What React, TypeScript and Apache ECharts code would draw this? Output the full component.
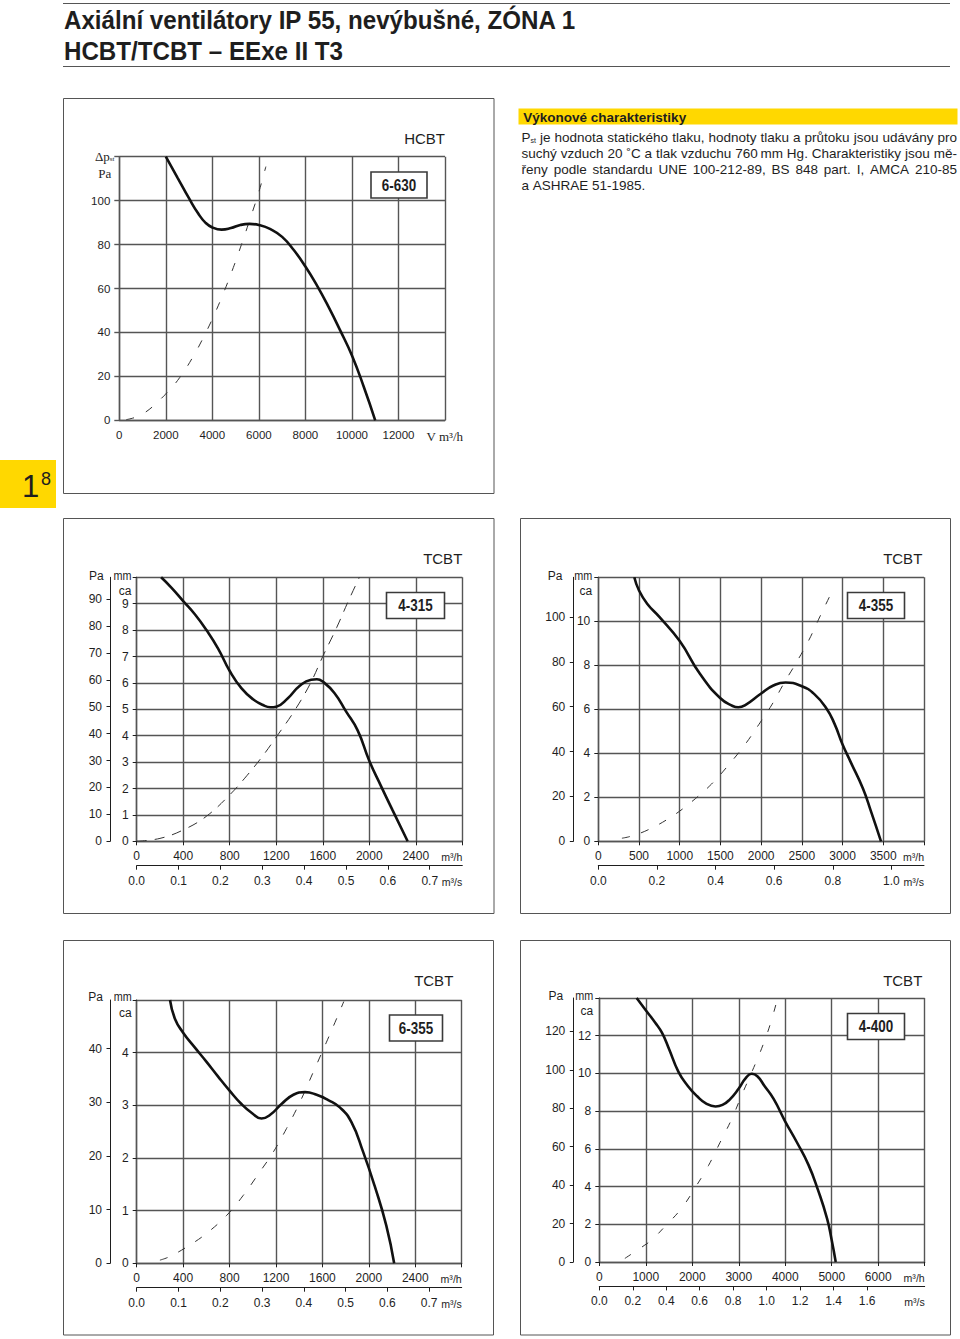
import React, { useEffect, useRef } from 'react';
import * as echarts from 'echarts';

// ---------------- DATA ----------------
// HCBT 6-630 (pressure in Pa vs flow in m3/h)
const hcbt630Flow = [2000, 2500, 3000, 3400, 3700, 4000, 4400, 4800, 5200, 5600, 6000, 6500, 7000, 7500, 8000, 8500, 9000, 9500, 10000, 10500, 11000];
const hcbt630Pa = [120, 110.5, 101, 94, 90, 87.8, 86.8, 87.5, 88.9, 89.4, 88.9, 87, 83.5, 77.5, 70, 61.3, 51.5, 40.8, 29.5, 15.5, 0];
const hcbt630SysFlow = [300, 1000, 2000, 2600, 3200, 3700, 4100, 4500, 4900, 5250, 5600, 6000, 6300];
const hcbt630SysPa = [0.3, 2.8, 12, 19.5, 29.5, 39.5, 48.5, 58.5, 69.5, 80, 91, 104, 115.5];
const hcbtFlowTicks = [0, 2000, 4000, 6000, 8000, 10000, 12000];
const hcbtPaTicks = [0, 20, 40, 60, 80, 100];

// TCBT 4-315 (mm ca vs m3/h)
const t4315Flow = [210, 300, 400, 500, 600, 700, 800, 900, 1000, 1100, 1150, 1200, 1300, 1400, 1500, 1550, 1600, 1700, 1800, 1900, 2000, 2100, 2200, 2330];
const t4315Mm = [10, 9.6, 9.1, 8.6, 8.0, 7.3, 6.45, 5.8, 5.38, 5.13, 5.08, 5.1, 5.42, 5.88, 6.12, 6.14, 6.05, 5.62, 4.92, 4.2, 3.05, 2.1, 1.18, 0];
const t4315SysFlow = [0, 200, 400, 600, 800, 950, 1090, 1200, 1350, 1490, 1600, 1720, 1820, 1915];
const t4315SysMm = [0, 0.11, 0.43, 0.95, 1.76, 2.5, 3.27, 3.95, 4.9, 5.95, 7.0, 8.1, 9.1, 10];
const t4315FlowTicks = [0, 400, 800, 1200, 1600, 2000, 2400];
const t4315SecTicks = [0, 0.1, 0.2, 0.3, 0.4, 0.5, 0.6, 0.7];
const t4315PaTicks = [0, 10, 20, 30, 40, 50, 60, 70, 80, 90];
const t4315MmTicks = [0, 1, 2, 3, 4, 5, 6, 7, 8, 9];

// TCBT 4-355
const t4355Flow = [442, 500, 600, 750, 1000, 1250, 1500, 1650, 1720, 1800, 2000, 2150, 2300, 2500, 2650, 2800, 2900, 3000, 3100, 3250, 3350, 3472];
const t4355Mm = [12, 11.4, 10.8, 10.2, 9.1, 7.6, 6.5, 6.15, 6.09, 6.18, 6.72, 7.08, 7.22, 7.05, 6.7, 6.05, 5.35, 4.4, 3.6, 2.4, 1.35, 0];
const t4355SysFlow = [290, 390, 610, 900, 1150, 1390, 1600, 1800, 1970, 2130, 2290, 2420, 2580, 2720, 2870];
const t4355SysMm = [0.14, 0.22, 0.52, 1.12, 1.81, 2.6, 3.47, 4.39, 5.3, 6.2, 7.25, 8.05, 9.1, 10.2, 11.35];
const t4355FlowTicks = [0, 500, 1000, 1500, 2000, 2500, 3000, 3500];
const t4355SecTicks = [0, 0.2, 0.4, 0.6, 0.8, 1.0];
const t4355PaTicks = [0, 20, 40, 60, 80, 100];
const t4355MmTicks = [0, 2, 4, 6, 8, 10];

// TCBT 6-355
const t6355Flow = [287, 330, 400, 500, 600, 700, 800, 900, 1000, 1075, 1150, 1250, 1350, 1450, 1550, 1650, 1750, 1850, 1950, 2050, 2150, 2218];
const t6355Mm = [5, 4.64, 4.38, 4.1, 3.83, 3.55, 3.28, 3.03, 2.84, 2.75, 2.82, 3.03, 3.2, 3.25, 3.2, 3.1, 2.96, 2.68, 2.12, 1.47, 0.72, 0];
const t6355SysFlow = [200, 287, 460, 603, 775, 918, 1062, 1176, 1291, 1406, 1521, 1635, 1721, 1784];
const t6355SysMm = [0.06, 0.13, 0.35, 0.57, 0.91, 1.29, 1.74, 2.11, 2.56, 3.06, 3.63, 4.2, 4.64, 4.97];
const t6355FlowTicks = [0, 400, 800, 1200, 1600, 2000, 2400];
const t6355SecTicks = [0, 0.1, 0.2, 0.3, 0.4, 0.5, 0.6, 0.7];
const t6355PaTicks = [0, 10, 20, 30, 40];
const t6355MmTicks = [0, 1, 2, 3, 4];

// TCBT 4-400
const t4400Flow = [803, 1000, 1200, 1350, 1500, 1700, 1900, 2100, 2300, 2500, 2650, 2800, 3000, 3150, 3280, 3400, 3550, 3750, 4000, 4250, 4500, 4700, 4900, 5000, 5086];
const t4400Mm = [14, 13.35, 12.7, 12.15, 11.3, 10.1, 9.35, 8.8, 8.4, 8.25, 8.33, 8.6, 9.2, 9.75, 9.98, 9.85, 9.35, 8.65, 7.45, 6.35, 5.15, 3.85, 2.3, 1.15, 0];
const t4400SysFlow = [550, 660, 980, 1130, 1410, 1770, 2100, 2350, 2600, 2850, 3060, 3280, 3490, 3670, 3820];
const t4400SysMm = [0.19, 0.37, 0.9, 1.17, 1.88, 2.85, 4.09, 5.12, 6.35, 7.59, 8.83, 10.07, 11.31, 12.55, 13.85];
const t4400FlowTicks = [0, 1000, 2000, 3000, 4000, 5000, 6000];
const t4400SecTicks = [0, 0.2, 0.4, 0.6, 0.8, 1.0, 1.2, 1.4, 1.6];
const t4400PaTicks = [0, 20, 40, 60, 80, 100, 120];
const t4400MmTicks = [0, 2, 4, 6, 8, 10, 12];

// Texts
const titleLines = ['Axiální ventilátory IP 55, nevýbušné, ZÓNA 1', 'HCBT/TCBT – EExe II T3'];
const infoHeader = 'Výkonové charakteristiky';
const infoLines = [
  'Pst je hodnota statického tlaku, hodnoty tlaku a průtoku jsou udávány pro',
  'suchý vzduch 20 ˚C a tlak vzduchu 760\u2009mm Hg. Charakteristiky jsou mě-',
  'řeny podle standardu UNE 100-212-89, BS 848 part. I, AMCA 210-85',
  'a ASHRAE 51-1985.',
];

const PA_PER_MM = 9.81;
const M3H_PER_M3S = 3600;

// ---------------- STYLE / LAYOUT ----------------
const SANS = '"Liberation Sans", Arial, Helvetica, sans-serif';
const SERIF = '"Liberation Serif", "Times New Roman", serif';
const INK = '#1e1e1e';
const GRIDC = '#555555';
const YELLOW = '#FFD800';
const COND = 0.84; // horizontal squeeze for condensed-looking graphic texts
const LAB = 12;    // axis label size, TCBT charts
const LAB1 = 11.5; // axis label size, HCBT chart

type Panel = {
  model: string;
  flow: number[]; mm: number[]; sysFlow: number[]; sysMm: number[];
  flowTicks: number[]; flowMax: number; flowStep: number;
  secTicks: number[]; secStep: number;
  paTicks: number[]; paStep: number;
  mmTicks: number[]; mmMax: number; mmStep: number;
};

const panels: Panel[] = [
  { model: '4-315', flow: t4315Flow, mm: t4315Mm, sysFlow: t4315SysFlow, sysMm: t4315SysMm,
    flowTicks: t4315FlowTicks, flowMax: 2800, flowStep: 400, secTicks: t4315SecTicks, secStep: 0.1,
    paTicks: t4315PaTicks, paStep: 10, mmTicks: t4315MmTicks, mmMax: 10, mmStep: 1 },
  { model: '4-355', flow: t4355Flow, mm: t4355Mm, sysFlow: t4355SysFlow, sysMm: t4355SysMm,
    flowTicks: t4355FlowTicks, flowMax: 4000, flowStep: 500, secTicks: t4355SecTicks, secStep: 0.2,
    paTicks: t4355PaTicks, paStep: 20, mmTicks: t4355MmTicks, mmMax: 12, mmStep: 2 },
  { model: '6-355', flow: t6355Flow, mm: t6355Mm, sysFlow: t6355SysFlow, sysMm: t6355SysMm,
    flowTicks: t6355FlowTicks, flowMax: 2800, flowStep: 400, secTicks: t6355SecTicks, secStep: 0.1,
    paTicks: t6355PaTicks, paStep: 10, mmTicks: t6355MmTicks, mmMax: 5, mmStep: 1 },
  { model: '4-400', flow: t4400Flow, mm: t4400Mm, sysFlow: t4400SysFlow, sysMm: t4400SysMm,
    flowTicks: t4400FlowTicks, flowMax: 7000, flowStep: 1000, secTicks: t4400SecTicks, secStep: 0.2,
    paTicks: t4400PaTicks, paStep: 20, mmTicks: t4400MmTicks, mmMax: 14, mmStep: 2 },
];

const layouts = [
  { grid: { left: 136.7, top: 577.3, width: 325.6, height: 264 }, paOffset: 26.7, frame: [63.5, 518.5, 430.5, 395],
    tag: [462.3, 558], box: [386.5, 592.5, 58, 26], pa: [96.3, 576], mm: [131.5, 576], ca: [131.5, 591], dash: [10, 8] },
  { grid: { left: 598.3, top: 577.3, width: 325.7, height: 264 }, paOffset: 25, frame: [520.5, 518.5, 430, 395],
    tag: [922.3, 558], box: [847.5, 592.5, 57, 26], pa: [555, 576], mm: [592.3, 576], ca: [592.3, 591], dash: [8, 12] },
  { grid: { left: 136.7, top: 1000, width: 325, height: 263.3 }, paOffset: 26.7, frame: [63.5, 940.5, 430, 394.5],
    tag: [453.3, 980], box: [389.5, 1015, 53, 26], pa: [95.5, 996.7], mm: [131.7, 996.7], ca: [131.7, 1012.7], dash: [8, 12] },
  { grid: { left: 599.3, top: 998, width: 325.4, height: 264 }, paOffset: 26, frame: [520.5, 940.5, 430, 394.5],
    tag: [922.3, 980], box: [847.5, 1013.5, 57, 26], pa: [555.8, 996], mm: [593.3, 996], ca: [593.3, 1011], dash: [7, 14] },
];

const zip = (a: number[], b: number[]) => a.map((v, i) => [v, b[i]]);
const has = (list: number[], v: number) => list.some((t) => Math.abs(t - v) < 1e-6);

let _ctx: CanvasRenderingContext2D | null = null;
function measure(text: string, font: string) {
  if (!_ctx) _ctx = document.createElement('canvas').getContext('2d');
  _ctx!.font = font;
  return _ctx!.measureText(text).width;
}

function txt(x: number, y: number, text: string, font: string, align = 'left', extra: any = {}) {
  return {
    type: 'text', x, y, z: 100, silent: true,
    scaleX: extra.scaleX ?? 1,
    style: {
      text, font, fill: extra.fill ?? INK,
      align, verticalAlign: extra.va ?? 'middle',
      textAlign: align, textVerticalAlign: extra.va ?? 'middle',
      ...(extra.rich ? { rich: extra.rich } : {}),
    },
  };
}

function buildOption() {
  const grids: any[] = [];
  const xAxes: any[] = [];
  const yAxes: any[] = [];
  const series: any[] = [];
  const g: any[] = [];

  const gridLine = { show: true, lineStyle: { color: GRIDC, width: 1.4 } };
  const labFont = `${LAB}px ${SANS}`;
  const unitFont = `11.5px ${SANS}`;

  // ---------- Chart 1: HCBT 6-630 ----------
  const g1 = { left: 119.3, top: 156.7, width: 325.7, height: 263.6 };
  grids.push({ ...g1, containLabel: false, outerBoundsMode: 'none' });
  xAxes.push({
    type: 'value', gridIndex: 0, min: 0, max: 14000, interval: 2000,
    axisLine: { show: true, onZero: false, lineStyle: { color: GRIDC, width: 1.4 } },
    axisTick: { show: false },
    axisLabel: { margin: 9, fontSize: LAB1, fontFamily: SANS, color: INK,
      formatter: (v: number) => (has(hcbtFlowTicks, v) ? String(v) : '') },
    splitLine: gridLine,
  });
  yAxes.push({
    type: 'value', gridIndex: 0, min: 0, max: 120, interval: 20,
    axisLine: { show: true, onZero: false, lineStyle: { color: GRIDC, width: 1.4 } },
    axisTick: { show: true, length: 5, lineStyle: { color: GRIDC, width: 1.4 } },
    axisLabel: { margin: 9, fontSize: LAB1, fontFamily: SANS, color: INK,
      formatter: (v: number) => (has(hcbtPaTicks, v) ? String(v) : '') },
    splitLine: gridLine,
  });
  series.push({
    type: 'line', xAxisIndex: 0, yAxisIndex: 0, data: zip(hcbt630SysFlow, hcbt630SysPa),
    smooth: 0.4, showSymbol: false, symbol: 'none', silent: true, z: 3,
    lineStyle: { color: '#333', width: 1, type: [8, 13] },
  });
  series.push({
    type: 'line', xAxisIndex: 0, yAxisIndex: 0, data: zip(hcbt630Flow, hcbt630Pa),
    smooth: 0.5, showSymbol: false, symbol: 'none', silent: true, z: 4,
    lineStyle: { color: '#111', width: 2.6 },
  });
  g.push({ type: 'rect', z: 1, silent: true, shape: { x: 63.5, y: 98.5, width: 430.5, height: 395 }, style: { fill: 'none', stroke: '#555', lineWidth: 1 } });
  g.push(txt(445, 138, 'HCBT', '15px ' + SANS, 'right'));
  g.push({ type: 'rect', z: 99, silent: true, shape: { x: 371, y: 172, width: 56, height: 26 }, style: { fill: '#fff', stroke: '#3a3a3a', lineWidth: 1.6 } });
  g.push(txt(399, 185.5, '6-630', 'bold 16px ' + SANS, 'center', { scaleX: COND }));
  g.push(txt(95, 156, '{a|Δp}{b|st}', '13px ' + SERIF, 'left', {
    rich: { a: { font: '13px ' + SERIF, fill: INK }, b: { font: '7px ' + SERIF, fill: INK, verticalAlign: 'bottom', padding: [6, 0, 0, 0] } },
  }));
  g.push(txt(98.3, 173.5, 'Pa', '13px ' + SERIF, 'left'));
  g.push(txt(426.5, 436, 'V m³/h', '13px ' + SERIF, 'left'));

  // ---------- TCBT charts ----------
  panels.forEach((p, i) => {
    const L = layouts[i];
    const gi = i + 1;
    grids.push({ ...L.grid, containLabel: false, outerBoundsMode: 'none' });
    const xi = xAxes.length;
    xAxes.push({
      type: 'value', gridIndex: gi, min: 0, max: p.flowMax, interval: p.flowStep, position: 'bottom',
      axisLine: { show: true, onZero: false, lineStyle: { color: GRIDC, width: 1.4 } },
      axisTick: { show: true, length: 4, lineStyle: { color: INK, width: 1 } },
      axisLabel: { margin: 9, fontSize: LAB, fontFamily: SANS, color: INK,
        formatter: (v: number) => (has(p.flowTicks, v) ? String(v) : '') },
      splitLine: gridLine,
    });
    xAxes.push({
      type: 'value', gridIndex: gi, min: 0, max: p.flowMax / M3H_PER_M3S, interval: p.secStep, position: 'bottom', offset: 24.4,
      axisLine: { show: true, onZero: false, lineStyle: { color: INK, width: 1 } },
      axisTick: { show: true, length: 4, customValues: p.secTicks, lineStyle: { color: INK, width: 1 } },
      axisLabel: { margin: 9, fontSize: LAB, fontFamily: SANS, color: INK, customValues: p.secTicks,
        formatter: (v: number) => (has(p.secTicks, v) ? v.toFixed(1) : '') },
      splitLine: { show: false },
    });
    const yi = yAxes.length;
    yAxes.push({
      type: 'value', gridIndex: gi, min: 0, max: p.mmMax, interval: p.mmStep, position: 'left',
      axisLine: { show: true, onZero: false, lineStyle: { color: GRIDC, width: 1.4 } },
      axisTick: { show: true, length: 4, lineStyle: { color: INK, width: 1 } },
      axisLabel: { margin: 8, fontSize: LAB, fontFamily: SANS, color: INK,
        formatter: (v: number) => (has(p.mmTicks, v) ? String(v) : '') },
      splitLine: gridLine,
    });
    yAxes.push({
      type: 'value', gridIndex: gi, min: 0, max: p.mmMax * PA_PER_MM, interval: p.paStep, position: 'left', offset: L.paOffset,
      axisLine: { show: true, onZero: false, lineStyle: { color: INK, width: 1 } },
      axisTick: { show: true, length: 3.5, customValues: p.paTicks, lineStyle: { color: INK, width: 1 } },
      axisLabel: { margin: 8, fontSize: LAB, fontFamily: SANS, color: INK, customValues: p.paTicks,
        formatter: (v: number) => (has(p.paTicks, v) ? String(v) : '') },
      splitLine: { show: false },
    });
    series.push({
      type: 'line', xAxisIndex: xi, yAxisIndex: yi, data: zip(p.sysFlow, p.sysMm),
      smooth: 0.4, showSymbol: false, symbol: 'none', silent: true, z: 3,
      lineStyle: { color: '#333', width: 1, type: L.dash },
    });
    series.push({
      type: 'line', xAxisIndex: xi, yAxisIndex: yi, data: zip(p.flow, p.mm),
      smooth: 0.5, showSymbol: false, symbol: 'none', silent: true, z: 4,
      lineStyle: { color: '#111', width: 2.6 },
    });

    const [fx, fy, fw, fh] = L.frame;
    g.push({ type: 'rect', z: 1, silent: true, shape: { x: fx, y: fy, width: fw, height: fh }, style: { fill: 'none', stroke: '#555', lineWidth: 1 } });
    g.push(txt(L.tag[0], L.tag[1], 'TCBT', '15px ' + SANS, 'right'));
    const [bx, by, bw, bh] = L.box;
    g.push({ type: 'rect', z: 99, silent: true, shape: { x: bx, y: by, width: bw, height: bh }, style: { fill: '#fff', stroke: '#3a3a3a', lineWidth: 1.6 } });
    g.push(txt(bx + bw / 2, by + bh / 2 + 0.5, p.model, 'bold 16px ' + SANS, 'center', { scaleX: COND }));
    g.push(txt(L.pa[0], L.pa[1], 'Pa', labFont, 'center'));
    g.push(txt(L.mm[0], L.mm[1], 'mm', labFont, 'right', { scaleX: 0.9 }));
    g.push(txt(L.ca[0], L.ca[1], 'ca', labFont, 'right'));
    const right = L.grid.left + L.grid.width;
    const bottom = L.grid.top + L.grid.height;
    g.push(txt(right, bottom + 15.4, 'm³/h', unitFont, 'right', { scaleX: 0.92 }));
    g.push(txt(right, bottom + 40.2, 'm³/s', unitFont, 'right', { scaleX: 0.92 }));
  });

  // ---------- Page header ----------
  g.push({ type: 'line', z: 1, silent: true, shape: { x1: 63, y1: 3.5, x2: 950, y2: 3.5 }, style: { stroke: '#555', lineWidth: 1 } });
  g.push({ type: 'line', z: 1, silent: true, shape: { x1: 63, y1: 66.5, x2: 950, y2: 66.5 }, style: { stroke: '#555', lineWidth: 1 } });
  const titleFont = 'bold 26px ' + SANS;
  const tScale = 513 / measure(titleLines[0], titleFont);
  g.push(txt(64, 20, titleLines[0], titleFont, 'left', { scaleX: tScale }));
  g.push(txt(64, 51, titleLines[1], titleFont, 'left', { scaleX: tScale }));

  // ---------- Info box ----------
  g.push({ type: 'rect', z: 1, silent: true, shape: { x: 518.5, y: 108.5, width: 439, height: 16 }, style: { fill: YELLOW } });
  g.push(txt(523.3, 117, infoHeader, 'bold 13.5px ' + SANS, 'left'));
  const bodyFont = '13.5px ' + SANS;
  const subFont = '7px ' + SANS;
  const x0 = 521.5, x1 = 957;
  infoLines.forEach((line, li) => {
    const y = 137 + li * 16;
    const words = line.split(' ');
    const widths = words.map((w) => (w === 'Pst' ? measure('P', bodyFont) + measure('st', subFont) : measure(w, bodyFont)));
    const justify = li < infoLines.length - 1;
    const total = widths.reduce((a, b) => a + b, 0);
    const gap = justify ? (x1 - x0 - total) / (words.length - 1) : measure(' ', bodyFont);
    let x = x0;
    words.forEach((w, wi) => {
      if (w === 'Pst') {
        g.push(txt(x, y, '{a|P}{b|st}', bodyFont, 'left', {
          rich: { a: { font: bodyFont, fill: INK }, b: { font: subFont, fill: INK, verticalAlign: 'bottom', padding: [6, 0, 0, 0] } },
        }));
      } else {
        g.push(txt(x, y, w, bodyFont, 'left'));
      }
      x += widths[wi] + gap;
    });
  });

  // ---------- Page tab ----------
  g.push({ type: 'rect', z: 1, silent: true, shape: { x: 0, y: 460, width: 56, height: 48 }, style: { fill: YELLOW } });
  g.push(txt(22, 486.5, '1', '31px ' + SANS, 'left'));
  g.push(txt(41, 478.5, '8', '18px ' + SANS, 'left'));

  return {
    animation: false,
    backgroundColor: '#ffffff',
    grid: grids,
    xAxis: xAxes,
    yAxis: yAxes,
    series,
    graphic: { elements: g },
  };
}

export default function App() {
  const ref = useRef<HTMLDivElement>(null);
  useEffect(() => {
    if (!ref.current) return;
    const chart = echarts.init(ref.current, undefined, { renderer: 'svg' });
    chart.setOption(buildOption() as any);
    return () => chart.dispose();
  }, []);
  return <div ref={ref} style={{ position: 'absolute', left: 0, top: 0, width: 960, height: 1339, background: '#fff' }} />;
}
